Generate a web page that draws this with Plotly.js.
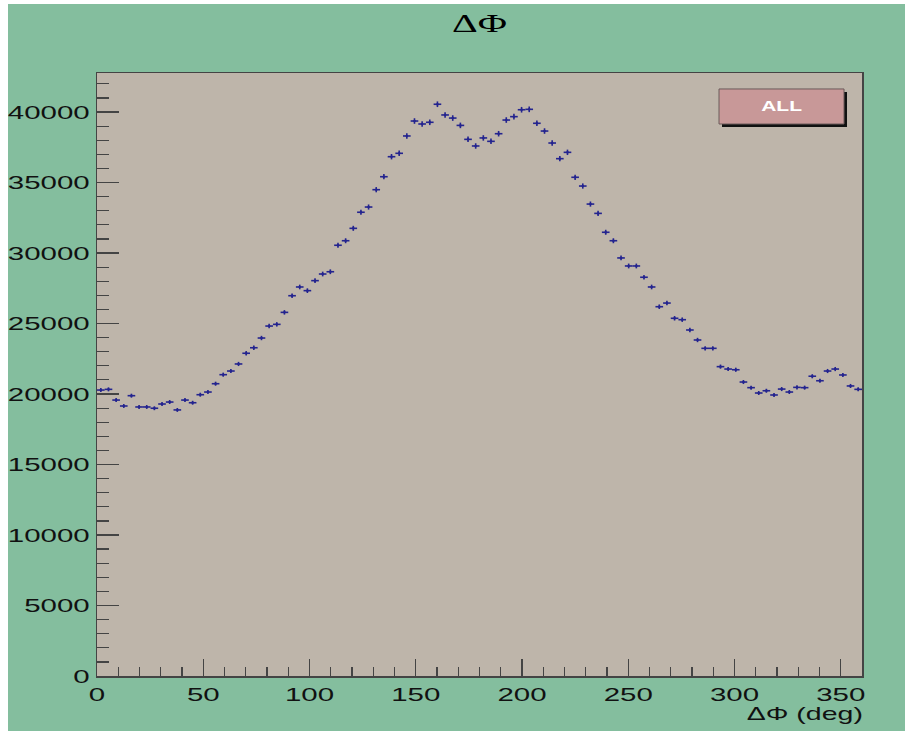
<!DOCTYPE html>
<html>
<head>
<meta charset="utf-8">
<script src="https://cdn.plot.ly/plotly-3.0.1.min.js"></script>
<style>
  html, body { margin: 0; padding: 0; background: #ffffff; width: 905px; height: 736px; overflow: hidden; }
  #plot { position: absolute; left: 8px; top: 4px; width: 897px; height: 727px; }
</style>
</head>
<body>
<div id="plot"></div>
<script>
// Histogram: Delta Phi, 100 bins over 0..360 deg
var xMin = 0, xMax = 360, nBins = 100;
var counts = [
  20280, 20330, 19570, 19150, 19880, 19080, 19080, 18990, 19290, 19430,
  18870, 19570, 19380, 19950, 20140, 20730, 21370, 21630, 22130, 22890,
  23280, 23970, 24820, 24940, 25790, 26970, 27590, 27330, 28040, 28510,
  28670, 30550, 30870, 31750, 32890, 33260, 34490, 35410, 36830, 37070,
  38300, 39360, 39150, 39270, 40550, 39790, 39570, 39050, 38060, 37590,
  38160, 37920, 38460, 39430, 39670, 40160, 40190, 39200, 38650, 37800,
  36690, 37140, 35370, 34750, 33470, 32810, 31470, 30870, 29650, 29080,
  29080, 28280, 27590, 26190, 26450, 25370, 25270, 24540, 23830, 23240,
  23240, 21940, 21770, 21720, 20850, 20450, 20070, 20230, 19930, 20350,
  20140, 20470, 20450, 21260, 20940, 21630, 21770, 21350, 20570, 20330
];
var xTickVals = [0, 50, 100, 150, 200, 250, 300, 350];
var yTickVals = [0, 5000, 10000, 15000, 20000, 25000, 30000, 35000, 40000];
var titleText = "ΔΦ";
var xTitleText = "ΔΦ (deg)";
var legendText = "ALL";

var binW = (xMax - xMin) / nBins;
var centers = [];
for (var i = 0; i < nBins; i++) centers.push(xMin + binW * (i + 0.5));
var errY = counts.map(function (c) { return Math.sqrt(c); });

var markColor = '#24248f';
var trace = {
  type: 'scatter',
  mode: 'markers',
  x: centers,
  y: counts,
  marker: { size: 2.5, color: markColor },
  error_x: { type: 'constant', value: binW / 2, width: 0, thickness: 1.6, color: markColor },
  error_y: { type: 'data', array: errY, width: 0, thickness: 1.6, color: markColor },
  hoverinfo: 'none',
  showlegend: false
};

var green = '#84be9e';
var frameColor = '#444444';
var tickFont = { family: 'Liberation Sans, Arial, sans-serif', size: 19, color: '#111111' };

var layout = {
  width: 897,
  height: 727,
  paper_bgcolor: green,
  plot_bgcolor: '#beb5aa',
  margin: { l: 89, r: 43, t: 69, b: 55, pad: 0 },
  title: {
    text: titleText,
    font: { family: 'Liberation Serif, Times New Roman, serif', size: 25, color: '#000000' },
    x: 0.5, xref: 'paper', xanchor: 'center',
    y: 0.973, yref: 'container', yanchor: 'middle'
  },
  xaxis: {
    range: [xMin, xMax],
    tickvals: xTickVals,
    ticktext: xTickVals.map(String),
    ticks: 'inside',
    ticklen: 17,
    tickwidth: 1.2,
    tickcolor: frameColor,
    minor: { dtick: 10, ticks: 'inside', ticklen: 9, tickcolor: frameColor, tickwidth: 1.2, showgrid: false },
    showline: true, linecolor: frameColor, linewidth: 1.5, mirror: true,
    showgrid: false, zeroline: false,
    tickfont: tickFont,
    ticklabelstandoff: 1
  },
  yaxis: {
    range: [0, 42766],
    tickvals: yTickVals,
    ticktext: yTickVals.map(String),
    ticks: 'inside',
    ticklen: 22,
    tickwidth: 1.2,
    tickcolor: frameColor,
    minor: { dtick: 1000, ticks: 'inside', ticklen: 12, tickcolor: frameColor, tickwidth: 1.2, showgrid: false },
    showline: true, linecolor: frameColor, linewidth: 1.5, mirror: true,
    showgrid: false, zeroline: false,
    tickfont: tickFont,
    ticklabelstandoff: 2
  },
  shapes: [
    { type: 'rect', xref: 'paper', yref: 'paper', x0: 0.8170, x1: 0.9804, y0: 0.9104, y1: 0.9685,
      fillcolor: '#111111', line: { width: 0 } },
    { type: 'rect', xref: 'paper', yref: 'paper', x0: 0.8131, x1: 0.9765, y0: 0.9154, y1: 0.9735,
      fillcolor: '#c89898', line: { color: '#6a5a5a', width: 1 } }
  ],
  annotations: [
    { text: legendText, xref: 'paper', yref: 'paper', x: 0.8948, y: 0.9445,
      xanchor: 'center', yanchor: 'middle', showarrow: false,
      font: { family: 'Liberation Sans, Arial, sans-serif', size: 14, color: '#ffffff', weight: 'bold' } },
    { text: xTitleText, xref: 'paper', yref: 'paper', x: 0.925, y: -0.0614,
      xanchor: 'center', yanchor: 'middle', showarrow: false,
      font: { family: 'Liberation Sans, Arial, sans-serif', size: 19, color: '#111111' } }
  ]
};

Plotly.newPlot('plot', [trace], layout, { staticPlot: true, displayModeBar: false }).then(function (gd) {
  function stretch(sel, f) {
    gd.querySelectorAll(sel).forEach(function (t) {
      var w = t.getComputedTextLength();
      if (w > 0) {
        t.setAttribute('textLength', (w * f).toFixed(2));
        t.setAttribute('lengthAdjust', 'spacingAndGlyphs');
      }
    });
  }
  stretch('.xtick text', 1.55);
  stretch('.ytick text', 1.55);
  stretch('.gtitle', 1.6);
  stretch('.annotation-text', 1.5);
});
</script>
</body>
</html>
